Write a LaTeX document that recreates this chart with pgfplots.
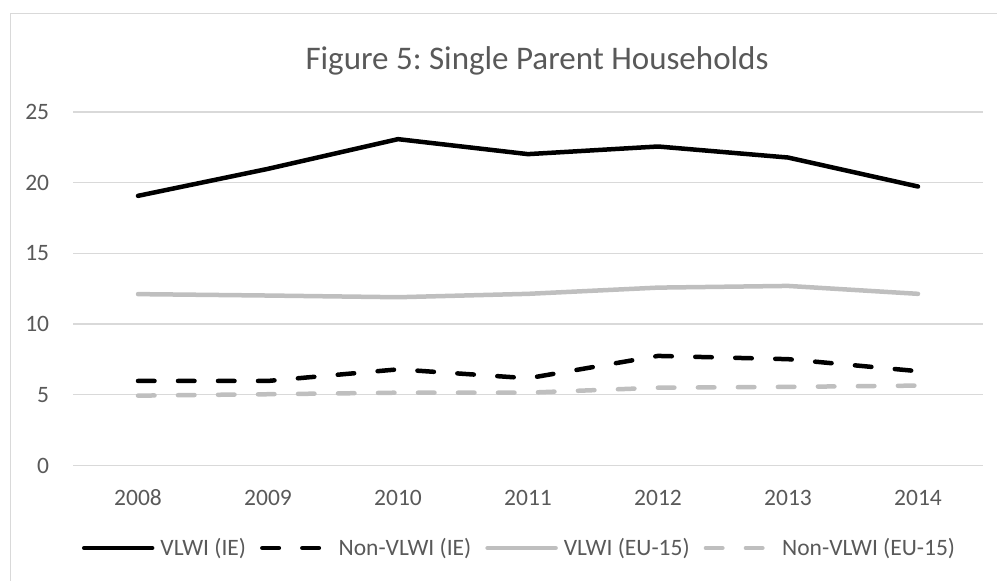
\documentclass[border=0pt]{standalone}
\usepackage{pgfplots}
\pgfplotsset{compat=1.18}
\usepackage{fontspec}
\setmainfont{Carlito}
\frenchspacing
\definecolor{txt}{HTML}{595959}
\definecolor{gridc}{HTML}{D9D9D9}
\definecolor{lgray}{HTML}{BFBFBF}
\begin{document}
\begin{tikzpicture}
\useasboundingbox (0,0) rectangle (997bp,581bp);
\draw[gridc, line width=1.2bp] (10.5bp,567.7bp) rectangle (1030bp,-20bp);
\node[txt, font=\fontsize{33bp}{40bp}\selectfont] at (537bp,520bp) {Figure 5: Single Parent Households};
\begin{axis}[
  at={(73bp,115.5bp)}, anchor=south west,
  scale only axis, width=910bp, height=353.5bp,
  xmin=-0.5, xmax=6.5, ymin=0, ymax=25,
  xtick={0,...,6}, xticklabels={2008,2009,2010,2011,2012,2013,2014},
  ytick={0,5,...,25},
  xmajorgrids=false, ymajorgrids=true,
  major grid style={gridc, line width=1.2bp},
  axis line style={draw=none},
  major tick length=0pt,
  /pgf/number format/assume math mode=true,
  tick label style={txt, font=\fontsize{23.5bp}{28bp}\selectfont, inner sep=0pt},
  yticklabel style={anchor=east, xshift=-23.7bp},
  xticklabel style={anchor=base, yshift=-39.5bp},
  legend columns=4,
  legend style={draw=none, fill=none, at={(0.4896,-0.2334)}, anchor=center,
    font=\fontsize{23.5bp}{28bp}\selectfont, text=txt,
    nodes={inner sep=0pt},
    /tikz/every odd column/.append style={column sep=6bp},
    /tikz/every even column/.append style={column sep=14bp}},
  legend image code/.code={\draw[#1] (0bp,0bp) -- (68bp,0bp);},
  every axis plot/.append style={line width=4.5bp, line cap=round, line join=round},
]
\addplot[black] coordinates {(0,19.07) (1,20.98) (2,23.08) (3,22.02) (4,22.56) (5,21.78) (6,19.73)};
\addlegendentry{VLWI (IE)}
\addplot[black, dash pattern=on 16.5bp off 23.5bp] coordinates {(0,5.98) (1,5.98) (2,6.80) (3,6.17) (4,7.75) (5,7.52) (6,6.67)};
\addlegendentry{Non-VLWI (IE)}
\addplot[lgray] coordinates {(0,12.12) (1,12.02) (2,11.90) (3,12.14) (4,12.58) (5,12.70) (6,12.14)};
\addlegendentry{VLWI (EU-15)}
\addplot[lgray, dash pattern=on 16.5bp off 23.5bp] coordinates {(0,4.94) (1,5.04) (2,5.15) (3,5.15) (4,5.50) (5,5.56) (6,5.65)};
\addlegendentry{Non-VLWI (EU-15)}
\end{axis}
\end{tikzpicture}
\end{document}
